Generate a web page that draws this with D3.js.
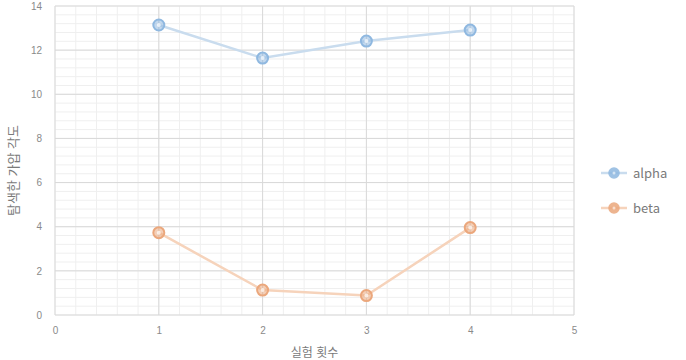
<!DOCTYPE html>
<html lang="ko">
<head>
  <meta charset="UTF-8" />
  <title>탐색한 가압 각도</title>
  <style>
    html, body { margin: 0; padding: 0; background: #fff; }
    svg { display: block; font-family: "Noto Sans CJK KR", "Noto Sans", sans-serif; }
    .tick text { fill: #8a8a8a; font-size: 10px; }
  </style>
</head>
<body>
  <svg width="686" height="360"></svg>
  <script src="https://d3js.org/d3.v7.min.js"></script>
  <script>
    const trials = [1, 2, 3, 4];
    const alphaValues = [13.14, 11.64, 12.41, 12.91];
    const betaValues = [3.73, 1.13, 0.88, 3.96];
    const xTicks = [0, 1, 2, 3, 4, 5];
    const yTicks = [0, 2, 4, 6, 8, 10, 12, 14];
    const seriesNames = ["alpha", "beta"];

    const series = [
      { name: seriesNames[0], values: alphaValues, line: "#c9dcee", mark: "#8fb8e0" },
      { name: seriesNames[1], values: betaValues, line: "#f6d3bb", mark: "#eba77c" }
    ];

    const svg = d3.select("svg");
    const x = d3.scaleLinear().domain([0, 5]).range([55, 574]);
    const y = d3.scaleLinear().domain([0, 14]).range([315, 6]);

    // minor grid
    const grid = svg.append("g");
    grid.selectAll("line.vminor")
      .data(d3.range(0, 5.0001, 0.2))
      .join("line")
      .attr("x1", d => x(d)).attr("x2", d => x(d))
      .attr("y1", y(0)).attr("y2", y(14))
      .attr("stroke", "#efefef");
    grid.selectAll("line.hminor")
      .data(d3.range(0, 14.0001, 0.4))
      .join("line")
      .attr("x1", x(0)).attr("x2", x(5))
      .attr("y1", d => y(d)).attr("y2", d => y(d))
      .attr("stroke", "#efefef");

    // major grid
    grid.append("g").selectAll("line")
      .data(xTicks)
      .join("line")
      .attr("x1", d => x(d)).attr("x2", d => x(d))
      .attr("y1", y(0)).attr("y2", y(14))
      .attr("stroke", "#d9d9d9");
    grid.append("g").selectAll("line")
      .data(yTicks)
      .join("line")
      .attr("x1", x(0)).attr("x2", x(5))
      .attr("y1", d => y(d)).attr("y2", d => y(d))
      .attr("stroke", "#d9d9d9");

    // axes (labels only)
    const xAxis = svg.append("g")
      .attr("transform", `translate(0,${y(0)})`)
      .call(d3.axisBottom(x).tickValues(xTicks).tickFormat(d3.format("d")).tickSize(0).tickPadding(12));
    xAxis.select(".domain").remove();

    const yAxis = svg.append("g")
      .attr("transform", `translate(${x(0)},0)`)
      .call(d3.axisLeft(y).tickValues(yTicks).tickFormat(d3.format("d")).tickSize(0).tickPadding(13));
    yAxis.select(".domain").remove();

    // lines and markers
    const line = d3.line().x((d, i) => x(trials[i])).y(d => y(d));
    series.forEach(s => {
      svg.append("path")
        .datum(s.values)
        .attr("fill", "none")
        .attr("stroke", s.line)
        .attr("stroke-width", 2.5)
        .attr("d", line);
      const g = svg.append("g");
      g.selectAll("circle.outer")
        .data(s.values)
        .join("circle")
        .attr("cx", (d, i) => x(trials[i]))
        .attr("cy", d => y(d))
        .attr("r", 5.5)
        .attr("fill", s.mark)
        .attr("fill-opacity", 0.55)
        .attr("stroke", s.mark)
        .attr("stroke-width", 2);
      g.selectAll("circle.inner")
        .data(s.values)
        .join("circle")
        .attr("cx", (d, i) => x(trials[i]))
        .attr("cy", d => y(d))
        .attr("r", 2)
        .attr("fill", "#fff")
        .attr("opacity", 0.7);
    });

    // legend
    const legend = svg.append("g");
    series.forEach((s, i) => {
      const ly = 173 + i * 35;
      legend.append("line")
        .attr("x1", 601).attr("x2", 627)
        .attr("y1", ly).attr("y2", ly)
        .attr("stroke", s.line).attr("stroke-width", 2.5);
      legend.append("circle")
        .attr("cx", 614).attr("cy", ly).attr("r", 5)
        .attr("fill", s.mark).attr("stroke", s.mark).attr("stroke-width", 1.5)
        .attr("opacity", 0.85);
      legend.append("circle")
        .attr("cx", 614).attr("cy", ly).attr("r", 1.5)
        .attr("fill", "#fff").attr("opacity", 0.6);
      legend.append("text")
        .attr("x", 633).attr("y", ly)
        .attr("dy", "0.35em")
        .attr("fill", "#7a7a7a")
        .attr("font-size", 13)
        .text(s.name);
    });

    // axis titles
    svg.append("text")
      .attr("x", (x(0) + x(5)) / 2)
      .attr("y", 357)
      .attr("text-anchor", "middle")
      .attr("fill", "#7a7a7a")
      .attr("font-size", 12)
      .text("실험 횟수");

    svg.append("text")
      .attr("transform", `translate(18,${(y(0) + y(14)) / 2 + 10}) rotate(-90)`)
      .attr("text-anchor", "middle")
      .attr("fill", "#7a7a7a")
      .attr("font-size", 13)
      .text("탐색한 가압 각도");
  </script>
</body>
</html>
